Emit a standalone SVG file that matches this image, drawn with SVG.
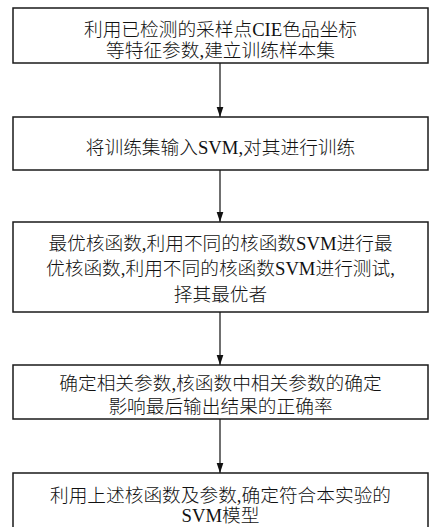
<svg xmlns="http://www.w3.org/2000/svg" width="433" height="527" viewBox="0 0 433 527">
<style>
.box{fill:#fff;stroke:#1a1a1a;stroke-width:1.5}
.t{font-family:"Liberation Serif","Noto Sans CJK SC",serif;font-size:18.7px;font-weight:300;fill:#111;text-anchor:middle}
.edge{stroke:#333;stroke-width:1.4;fill:none;marker-end:url(#arr)}
</style>
<defs>
<marker id="arr" markerUnits="userSpaceOnUse" markerWidth="10" markerHeight="16" refX="15" refY="5" orient="auto" viewBox="0 0 15 10">
<path d="M0,0 L15,5 L0,10 Z" fill="#111"/>
</marker>
</defs>
<rect width="433" height="527" fill="#fff"/>
<g id="connectors">
<line class="edge" x1="220" y1="63" x2="220" y2="117"/>
<line class="edge" x1="220" y1="170" x2="220" y2="222"/>
<line class="edge" x1="220" y1="312" x2="220" y2="365"/>
<line class="edge" x1="220" y1="419" x2="220" y2="473"/>
</g>
<g id="n1">
<rect class="box" x="13" y="8" width="415" height="55"/>
<text class="t" x="220.5" y="35.5">利用已检测的采样点CIE色品坐标</text>
<text class="t" x="220.5" y="57">等特征参数,建立训练样本集</text>
</g>
<g id="n2">
<rect class="box" x="13" y="117" width="415" height="53"/>
<text class="t" x="220.5" y="153.5">将训练集输入SVM,对其进行训练</text>
</g>
<g id="n3">
<rect class="box" x="13" y="222" width="415" height="90"/>
<text class="t" x="220.5" y="250">最优核函数,利用不同的核函数SVM进行最</text>
<text class="t" x="220.5" y="275">优核函数,利用不同的核函数SVM进行测试,</text>
<text class="t" x="220.5" y="301">择其最优者</text>
</g>
<g id="n4">
<rect class="box" x="13" y="365" width="415" height="54"/>
<text class="t" x="220.5" y="389.5">确定相关参数,核函数中相关参数的确定</text>
<text class="t" x="220.5" y="413">影响最后输出结果的正确率</text>
</g>
<g id="n5">
<rect class="box" x="13" y="473" width="415" height="60"/>
<text class="t" x="220.5" y="502">利用上述核函数及参数,确定符合本实验的</text>
<text class="t" x="220.5" y="521.5">SVM模型</text>
</g>
</svg>
